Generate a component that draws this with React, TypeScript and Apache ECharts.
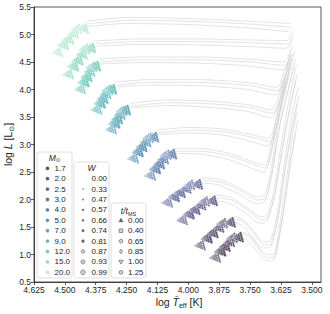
import React, { useEffect, useRef } from 'react';
import * as echarts from 'echarts';

const FONT = '"Liberation Sans", Arial, "DejaVu Sans", sans-serif';

// ---- categories / legend values ----
const MASS_LABELS = ['1.7', '2.0', '2.5', '3.0', '4.0', '5.0', '7.0', '9.0', '12.0', '15.0', '20.0'];
const MASS_COLORS = ['#2B1D38', '#352A55', '#3C3A72', '#3D4B89', '#39629C', '#3679A4', '#3592A7', '#3CAAAB', '#52BFAE', '#7DD3B0', '#ADE5C7'];
const W_LABELS = ['0.00', '0.33', '0.47', '0.57', '0.66', '0.74', '0.81', '0.87', '0.93', '0.99'];
const T_LABELS = ['0.00', '0.40', '0.65', '0.85', '1.00', '1.25'];

// ---- axis ticks ----
const X_TICKS = [3.5, 3.625, 3.75, 3.875, 4.0, 4.125, 4.25, 4.375, 4.5, 4.625];

// ---- main-sequence patch anchors (log Teff, log L), one per mass ----
const ZAMS_T = [3.913, 3.974, 4.047, 4.107, 4.176, 4.245, 4.334, 4.394, 4.459, 4.508, 4.552];
const ZAMS_L = [0.94, 1.16, 1.62, 1.94, 2.43, 2.74, 3.27, 3.63, 4.0, 4.27, 4.67];
const END_T = [3.821, 3.853, 3.926, 3.986, 4.091, 4.164, 4.278, 4.334, 4.399, 4.419, 4.448];
const END_L = [1.3, 1.57, 1.96, 2.26, 2.81, 3.12, 3.61, 3.99, 4.41, 4.74, 5.1];
// progress of each t/tMS stage between ZAMS anchor and end anchor
const PROG_T = [0, 0.22, 0.42, 0.62, 0.74, 1.0];
const PROG_L = [0, 0.3, 0.53, 0.76, 0.95, 1.0];
// rotation spread (relative) per W value and inclination steps
const SPREAD = [0, 0.04, 0.09, 0.15, 0.23, 0.32, 0.43, 0.57, 0.75, 1.0];
const INCL = [0, 0.25, 0.5, 0.75, 1];
const POLE_DT = 0.003, POLE_DL = 0.06, EQ_DT = -0.006, EQ_DL = -0.09, SHIFT_DT = -0.035, SHIFT_DL = 0.03;
const W_SIZE = [0.8, 1.0, 1.1, 1.3, 1.5, 1.7, 1.9, 2.1, 2.3, 2.6];

// ---- grey evolutionary tracks (log Teff, log L) ----
const TRACK_1_7_A = [[3.78, 1.37], [3.751, 1.3], [3.719, 1.12], [3.679, 0.94], [3.654, 0.94], [3.63, 1.35], [3.602, 2.17], [3.578, 2.9], [3.557, 3.45]];
const TRACK_1_7_B = [[3.8, 1.33], [3.76, 1.25], [3.725, 1.07], [3.688, 0.9], [3.66, 0.88], [3.636, 1.25], [3.608, 2.0], [3.586, 2.7], [3.566, 3.2]];
const TRACK_1_7_C = [[3.79, 1.42], [3.755, 1.36], [3.722, 1.18], [3.684, 1.0], [3.657, 1.0], [3.633, 1.45], [3.605, 2.3], [3.582, 3.05], [3.561, 3.6]];
const TRACK_2_0_A = [[3.808, 1.65], [3.772, 1.58], [3.731, 1.36], [3.691, 1.17], [3.667, 1.19], [3.638, 1.63], [3.606, 2.63], [3.574, 3.45], [3.55, 3.9]];
const TRACK_2_0_B = [[3.825, 1.6], [3.78, 1.52], [3.738, 1.3], [3.7, 1.12], [3.672, 1.12], [3.644, 1.5], [3.612, 2.45], [3.582, 3.25], [3.56, 3.75]];
const TRACK_2_0_C = [[3.815, 1.7], [3.776, 1.63], [3.735, 1.42], [3.695, 1.23], [3.669, 1.25], [3.641, 1.72], [3.609, 2.75], [3.578, 3.6], [3.555, 4.05]];
const TRACK_2_5_A = [[3.881, 2.03], [3.824, 1.99], [3.76, 1.81], [3.703, 1.63], [3.679, 1.67], [3.65, 2.09], [3.614, 3.08], [3.582, 3.82], [3.558, 4.3]];
const TRACK_2_5_B = [[3.9, 1.98], [3.833, 1.93], [3.768, 1.75], [3.712, 1.57], [3.684, 1.59], [3.656, 1.98], [3.62, 2.9], [3.59, 3.65], [3.566, 4.15]];
const TRACK_2_5_C = [[3.89, 2.08], [3.828, 2.04], [3.764, 1.86], [3.707, 1.69], [3.681, 1.72], [3.653, 2.18], [3.617, 3.2], [3.586, 3.95], [3.562, 4.45]];
const TRACK_3_0_A = [[3.941, 2.34], [3.873, 2.32], [3.792, 2.17], [3.719, 1.99], [3.687, 2.03], [3.662, 2.45], [3.626, 3.45], [3.59, 4.1], [3.566, 4.55]];
const TRACK_3_0_B = [[3.96, 2.3], [3.882, 2.27], [3.8, 2.11], [3.727, 1.93], [3.694, 1.95], [3.668, 2.33], [3.632, 3.3], [3.598, 3.95], [3.574, 4.4]];
const TRACK_3_0_C = [[3.95, 2.39], [3.877, 2.37], [3.796, 2.22], [3.723, 2.05], [3.69, 2.09], [3.665, 2.55], [3.629, 3.58], [3.594, 4.22], [3.57, 4.7]];
const TRACK_4_0_A = [[4.051, 2.88], [3.953, 2.88], [3.832, 2.79], [3.731, 2.63], [3.687, 2.57], [3.662, 2.9], [3.63, 3.63], [3.598, 4.25], [3.578, 4.65]];
const TRACK_4_0_B = [[4.07, 2.84], [3.962, 2.83], [3.84, 2.73], [3.74, 2.56], [3.694, 2.49], [3.668, 2.8], [3.636, 3.5], [3.604, 4.12], [3.584, 4.5]];
const TRACK_4_0_C = [[4.06, 2.93], [3.957, 2.93], [3.836, 2.84], [3.735, 2.68], [3.69, 2.63], [3.665, 2.98], [3.633, 3.75], [3.601, 4.38], [3.581, 4.8]];
const TRACK_5_0_A = [[4.123, 3.21], [3.994, 3.26], [3.852, 3.23], [3.731, 3.12], [3.67, 3.05], [3.642, 3.36], [3.614, 3.9], [3.59, 4.4]];
const TRACK_5_0_B = [[4.14, 3.17], [4.002, 3.21], [3.86, 3.17], [3.74, 3.05], [3.678, 2.97], [3.648, 3.26], [3.62, 3.78], [3.596, 4.28]];
const TRACK_5_0_C = [[4.13, 3.26], [3.998, 3.31], [3.856, 3.28], [3.735, 3.17], [3.674, 3.11], [3.645, 3.45], [3.617, 4.0], [3.593, 4.52]];
const TRACK_7_0_A = [[4.229, 3.7], [4.075, 3.76], [3.913, 3.74], [3.751, 3.67], [3.662, 3.57], [3.63, 3.8], [3.602, 4.2]];
const TRACK_7_0_B = [[4.245, 3.66], [4.083, 3.71], [3.92, 3.68], [3.76, 3.6], [3.668, 3.49], [3.636, 3.7], [3.608, 4.1]];
const TRACK_7_0_C = [[4.237, 3.75], [4.079, 3.81], [3.916, 3.79], [3.755, 3.72], [3.665, 3.63], [3.633, 3.88], [3.605, 4.3]];
const TRACK_9_0_A = [[4.289, 4.08], [4.156, 4.13], [3.953, 4.13], [3.751, 4.07], [3.638, 3.98], [3.61, 4.25], [3.582, 4.55]];
const TRACK_9_0_B = [[4.305, 4.04], [4.163, 4.08], [3.96, 4.07], [3.76, 4.0], [3.645, 3.9], [3.616, 4.15], [3.588, 4.45]];
const TRACK_9_0_C = [[4.297, 4.13], [4.16, 4.18], [3.956, 4.18], [3.755, 4.12], [3.641, 4.04], [3.613, 4.33], [3.585, 4.65]];
const TRACK_12_A = [[4.354, 4.5], [4.196, 4.54], [3.953, 4.54], [3.751, 4.5], [3.61, 4.44], [3.582, 4.63]];
const TRACK_12_B = [[4.37, 4.46], [4.203, 4.49], [3.96, 4.48], [3.76, 4.43], [3.616, 4.36], [3.588, 4.55]];
const TRACK_12_C = [[4.362, 4.55], [4.2, 4.59], [3.956, 4.59], [3.755, 4.55], [3.613, 4.5], [3.585, 4.72]];
const TRACK_15_A = [[4.374, 4.83], [4.196, 4.87], [3.953, 4.87], [3.751, 4.85], [3.598, 4.83], [3.574, 4.98]];
const TRACK_15_B = [[4.39, 4.78], [4.203, 4.82], [3.96, 4.81], [3.76, 4.78], [3.604, 4.75], [3.58, 4.9]];
const TRACK_15_C = [[4.382, 4.88], [4.2, 4.92], [3.956, 4.92], [3.755, 4.9], [3.601, 4.89], [3.577, 5.06]];
const TRACK_20_A = [[4.407, 5.19], [4.237, 5.26], [3.994, 5.24], [3.751, 5.19], [3.582, 5.13]];
const TRACK_20_B = [[4.42, 5.14], [4.245, 5.2], [4.0, 5.18], [3.76, 5.12], [3.59, 5.05]];
const TRACK_20_C = [[4.413, 5.24], [4.241, 5.31], [3.997, 5.29], [3.755, 5.24], [3.586, 5.2]];

const TRACKS = [
  TRACK_1_7_A, TRACK_1_7_B, TRACK_1_7_C, TRACK_2_0_A, TRACK_2_0_B, TRACK_2_0_C,
  TRACK_2_5_A, TRACK_2_5_B, TRACK_2_5_C, TRACK_3_0_A, TRACK_3_0_B, TRACK_3_0_C,
  TRACK_4_0_A, TRACK_4_0_B, TRACK_4_0_C, TRACK_5_0_A, TRACK_5_0_B, TRACK_5_0_C,
  TRACK_7_0_A, TRACK_7_0_B, TRACK_7_0_C, TRACK_9_0_A, TRACK_9_0_B, TRACK_9_0_C,
  TRACK_12_A, TRACK_12_B, TRACK_12_C, TRACK_15_A, TRACK_15_B, TRACK_15_C,
  TRACK_20_A, TRACK_20_B, TRACK_20_C,
];

const TRI_DOWN = 'path://M0,0 L10,0 L5,9 Z';
const HEXAGON = 'path://M5,0 L9.33,2.5 L9.33,7.5 L5,10 L0.67,7.5 L0.67,2.5 Z';
const T_SYMBOLS = ['triangle', 'rect', 'circle', 'diamond', TRI_DOWN, HEXAGON];

function buildPatch(m: number) {
  const points: any[] = [];
  const polylines: any[] = [];
  for (let k = 0; k < T_LABELS.length; k++) {
    const bT = ZAMS_T[m] + (END_T[m] - ZAMS_T[m]) * PROG_T[k];
    const bL = ZAMS_L[m] + (END_L[m] - ZAMS_L[m]) * PROG_L[k];
    const grid: number[][][] = [];
    for (let j = 0; j < W_LABELS.length; j++) {
      const s = SPREAD[j];
      const post: number[][] = [];
      for (const f of INCL) {
        const T = bT + s * (POLE_DT * (1 - f) + EQ_DT * f + SHIFT_DT);
        const L = bL + s * (POLE_DL * (1 - f) + EQ_DL * f + SHIFT_DL);
        post.push([T, L]);
        points.push({ value: [T, L], symbol: T_SYMBOLS[k], symbolSize: W_SIZE[j] });
      }
      grid.push(post);
      if (j > 0) polylines.push({ coords: post });
    }
    for (let i = 0; i < INCL.length; i++) {
      polylines.push({ coords: grid.map((p) => p[i]) });
    }
  }
  return { points, polylines };
}

function legendGraphics() {
  const els: any[] = [];
  const box = (x: number, y: number, w: number, h: number) => ({
    type: 'rect', z: 100, silent: true,
    shape: { x, y, width: w, height: h, r: 2.5 },
    style: { fill: 'rgba(255,255,255,0.88)', stroke: '#d6d6d6', lineWidth: 0.8 },
  });
  const label = (x: number, y: number, text: string) => ({
    type: 'text', z: 101, silent: true, x, y,
    style: { text, fontSize: 8, fontFamily: FONT, fill: '#262626', align: 'left', verticalAlign: 'middle' },
  });
  const rowH = 10.4;
  // mass box
  els.push(box(37, 152, 35, 126));
  els.push({
    type: 'text', z: 101, silent: true, x: 54.5, y: 157.5,
    style: {
      text: '{i|M}{s|⊙}', align: 'center', verticalAlign: 'middle', fill: '#262626',
      rich: {
        i: { fontSize: 8.5, fontStyle: 'italic', fontFamily: FONT, fill: '#262626', lineHeight: 11 },
        s: { fontSize: 5.5, fontFamily: FONT, fill: '#262626', lineHeight: 11, verticalAlign: 'bottom' },
      },
    },
  });
  MASS_LABELS.forEach((t, i) => {
    const y = 168.3 + i * rowH;
    els.push({ type: 'circle', z: 101, silent: true, shape: { cx: 47.5, cy: y, r: 1.9 }, style: { fill: MASS_COLORS[i], opacity: 0.8, stroke: '#fff', lineWidth: 0.3 } });
    els.push(label(54.5, y, t));
  });
  // W box
  els.push(box(74, 162, 35, 116));
  els.push({
    type: 'text', z: 101, silent: true, x: 91.5, y: 167.5,
    style: { text: 'W', fontSize: 8.5, fontStyle: 'italic', fontFamily: FONT, fill: '#262626', align: 'center', verticalAlign: 'middle' },
  });
  const wR = [0.45, 0.6, 0.75, 0.95, 1.15, 1.35, 1.55, 1.8, 2.05, 2.3];
  W_LABELS.forEach((t, j) => {
    const y = 178.7 + j * rowH;
    const hollow = j >= 7;
    els.push({ type: 'circle', z: 101, silent: true, shape: { cx: 83, cy: y, r: wR[j] }, style: { fill: hollow ? '#d0d0d0' : '#666', stroke: hollow ? '#707070' : '#666', lineWidth: hollow ? 0.7 : 0.2 } });
    els.push(label(91.5, y, t));
  });
  // t/tMS box
  els.push(box(111, 203, 35, 75));
  els.push({
    type: 'text', z: 101, silent: true, x: 128.5, y: 211,
    style: {
      text: '{i|t/t}{s|MS}', align: 'center', verticalAlign: 'middle', fill: '#262626',
      rich: {
        i: { fontSize: 8.5, fontStyle: 'italic', fontFamily: FONT, fill: '#262626', lineHeight: 11 },
        s: { fontSize: 5.5, fontFamily: FONT, fill: '#262626', lineHeight: 11, verticalAlign: 'bottom' },
      },
    },
  });
  const mk = { fill: '#d6d6d6', stroke: '#666', lineWidth: 0.7 };
  T_LABELS.forEach((t, k) => {
    const y = 220.3 + k * rowH;
    const cx = 121;
    let el: any;
    if (k === 0) el = { type: 'polygon', shape: { points: [[cx, y - 2.2], [cx + 2.2, y + 1.6], [cx - 2.2, y + 1.6]] }, style: { fill: '#666', stroke: '#666', lineWidth: 0.4 } };
    else if (k === 1) el = { type: 'rect', shape: { x: cx - 1.8, y: y - 1.8, width: 3.6, height: 3.6 }, style: mk };
    else if (k === 2) el = { type: 'circle', shape: { cx, cy: y, r: 1.9 }, style: mk };
    else if (k === 3) el = { type: 'polygon', shape: { points: [[cx, y - 2.4], [cx + 1.6, y], [cx, y + 2.4], [cx - 1.6, y]] }, style: mk };
    else if (k === 4) el = { type: 'polygon', shape: { points: [[cx - 2.2, y - 1.6], [cx + 2.2, y - 1.6], [cx, y + 2.2]] }, style: mk };
    else el = { type: 'polygon', shape: { points: [[cx, y - 2], [cx + 1.8, y - 1], [cx + 1.8, y + 1], [cx, y + 2], [cx - 1.8, y + 1], [cx - 1.8, y - 1]] }, style: mk };
    els.push({ ...el, z: 101, silent: true });
    els.push(label(128, y, t));
  });
  // axis titles
  els.push({
    type: 'text', z: 101, silent: true, x: 8, y: 144.5, rotation: Math.PI / 2,
    style: {
      text: '{n|log }{i|L}{n| [L}{s|⊙}{n|]}', align: 'center', verticalAlign: 'middle', fill: '#262626',
      rich: {
        n: { fontSize: 10.5, fontFamily: FONT, fill: '#262626', lineHeight: 13 },
        i: { fontSize: 10.5, fontStyle: 'italic', fontFamily: FONT, fill: '#262626', lineHeight: 13 },
        s: { fontSize: 7, fontFamily: FONT, fill: '#262626', lineHeight: 13, verticalAlign: 'bottom' },
      },
    },
  });
  els.push({
    type: 'text', z: 101, silent: true, x: 179, y: 302,
    style: {
      text: '{n|log }{i|T\u0304}{s|eff}{n| [K]}', align: 'center', verticalAlign: 'middle', fill: '#262626',
      rich: {
        n: { fontSize: 10.5, fontFamily: FONT, fill: '#262626', lineHeight: 13 },
        i: { fontSize: 10.5, fontStyle: 'italic', fontFamily: FONT, fill: '#262626', lineHeight: 13 },
        s: { fontSize: 7, fontFamily: FONT, fill: '#262626', lineHeight: 13, verticalAlign: 'bottom' },
      },
    },
  });
  return els;
}

export default function App() {
  const ref = useRef<HTMLDivElement>(null);
  useEffect(() => {
    if (!ref.current) return;
    const chart = echarts.init(ref.current, undefined, { renderer: 'svg' });
    const series: any[] = [];
    TRACKS.forEach((tr) => {
      series.push({
        type: 'line', data: tr, showSymbol: false, smooth: 0.25, silent: true, z: 1,
        lineStyle: { color: '#d3d3d3', width: 0.65 },
      });
    });
    MASS_LABELS.forEach((_, m) => {
      const { points, polylines } = buildPatch(m);
      series.push({
        type: 'lines', coordinateSystem: 'cartesian2d', polyline: true, silent: true, z: 3,
        data: polylines, lineStyle: { color: MASS_COLORS[m], width: 0.4, opacity: 0.85 },
      });
      series.push({
        type: 'scatter', data: points, silent: true, z: 4,
        itemStyle: { color: MASS_COLORS[m], borderColor: '#ffffff', borderWidth: 0.35, opacity: 0.8 },
      });
    });
    chart.setOption({
      animation: false,
      backgroundColor: '#ffffff',
      grid: { left: 34, right: 9, top: 7, bottom: 32, show: true, borderColor: '#444', borderWidth: 0.9 },
      xAxis: {
        type: 'value', inverse: true, min: 3.463, max: 4.625,
        axisLine: { show: true, onZero: false, lineStyle: { color: '#333', width: 0.9 } },
        axisTick: { show: true, length: 3, customValues: X_TICKS, lineStyle: { color: '#333', width: 0.8 } },
        axisLabel: { customValues: X_TICKS, formatter: (v: number) => v.toFixed(3), fontSize: 8.5, color: '#262626', margin: 3, fontFamily: FONT },
        splitLine: { show: false },
      },
      yAxis: {
        type: 'value', min: 0.5, max: 5.5, interval: 0.5,
        axisLine: { show: true, onZero: false, lineStyle: { color: '#333', width: 0.9 } },
        axisTick: { show: true, length: 3, lineStyle: { color: '#333', width: 0.8 } },
        axisLabel: { formatter: (v: number) => v.toFixed(1), fontSize: 8.5, color: '#262626', margin: 3, fontFamily: FONT },
        splitLine: { show: false },
      },
      graphic: legendGraphics(),
      series,
    });
    return () => chart.dispose();
  }, []);
  return <div ref={ref} style={{ position: 'fixed', left: 0, top: 0, width: 330, height: 314, background: '#fff' }} />;
}
